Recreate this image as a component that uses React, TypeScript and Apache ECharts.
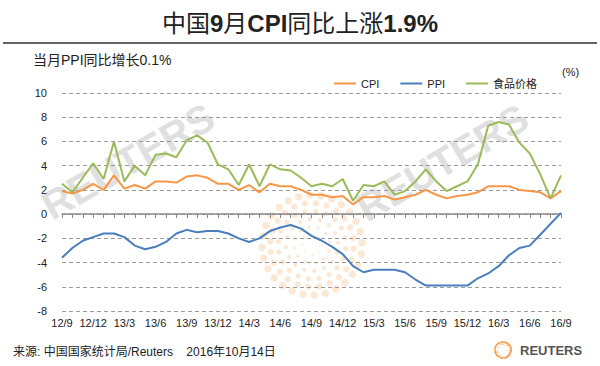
import React, { useEffect, useRef } from "react";
import * as echarts from "echarts";

const months: string[] = [
  "12/9","12/10","12/11","12/12",
  "13/1","13/2","13/3","13/4","13/5","13/6","13/7","13/8","13/9","13/10","13/11","13/12",
  "14/1","14/2","14/3","14/4","14/5","14/6","14/7","14/8","14/9","14/10","14/11","14/12",
  "15/1","15/2","15/3","15/4","15/5","15/6","15/7","15/8","15/9","15/10","15/11","15/12",
  "16/1","16/2","16/3","16/4","16/5","16/6","16/7","16/8","16/9",
];

const cpi: number[] = [
  1.9, 1.7, 2.0, 2.5,
  2.0, 3.2, 2.1, 2.4, 2.1, 2.7, 2.7, 2.6, 3.1, 3.2, 3.0, 2.5,
  2.5, 2.0, 2.4, 1.8, 2.5, 2.3, 2.3, 2.0, 1.6, 1.6, 1.4, 1.5,
  0.8, 1.4, 1.4, 1.5, 1.2, 1.4, 1.6, 2.0, 1.6, 1.3, 1.5, 1.6,
  1.8, 2.3, 2.3, 2.3, 2.0, 1.9, 1.8, 1.3, 1.9,
];

const ppi: number[] = [
  -3.6, -2.8, -2.2, -1.9,
  -1.6, -1.6, -1.9, -2.6, -2.9, -2.7, -2.3, -1.6, -1.3, -1.5, -1.4, -1.4,
  -1.6, -2.0, -2.3, -2.0, -1.4, -1.1, -0.9, -1.2, -1.8, -2.2, -2.7, -3.3,
  -4.3, -4.8, -4.6, -4.6, -4.6, -4.8, -5.4, -5.9, -5.9, -5.9, -5.9, -5.9,
  -5.3, -4.9, -4.3, -3.4, -2.8, -2.6, -1.7, -0.8, 0.1,
];

const food: number[] = [
  2.5, 1.8, 3.0, 4.2,
  2.9, 6.0, 2.7, 4.0, 3.2, 4.9, 5.0, 4.7, 6.1, 6.5, 5.9, 4.1,
  3.7, 2.4, 4.1, 2.3, 4.1, 3.7, 3.6, 3.0, 2.3, 2.5, 2.3, 2.9,
  1.1, 2.4, 2.3, 2.7, 1.6, 1.9, 2.7, 3.7, 2.7, 1.9, 2.3, 2.7,
  4.1, 7.3, 7.6, 7.4, 5.9, 5.0, 3.3, 1.3, 3.2,
];

const seriesNames: string[] = ["CPI", "PPI", "食品价格"];
const yTicks = { min: -8, max: 10, step: 2 };

const FONT = '"Liberation Sans", Arial, "Noto Sans CJK SC", sans-serif';

function sunDots(cx: number, cy: number, scale: number, color: string, opacity: number) {
  const els: any[] = [];
  for (let k = 0; k < 6; k++) {
    const r = (10 + k * 8) * scale;
    const n = 8 + k * 4;
    const dr = (1 + k * 0.55) * scale;
    for (let i = 0; i < n; i++) {
      const a = (i / n) * Math.PI * 2 + k * 0.35;
      els.push({
        type: "circle",
        z: 0,
        silent: true,
        shape: { cx: cx + r * Math.cos(a), cy: cy + r * Math.sin(a), r: dr },
        style: { fill: color, opacity },
      });
    }
  }
  return els;
}

export default function App() {
  const ref = useRef<HTMLDivElement>(null);

  useEffect(() => {
    document.body.style.margin = "0";
    if (!ref.current) return;
    const chart = echarts.init(ref.current, undefined, { renderer: "svg" });

    const watermarkStyle = {
      text: "REUTERS",
      fontFamily: FONT,
      fontSize: 40,
      fontWeight: "bold",
      fill: "#e0e0e0",
      textAlign: "left",
      textVerticalAlign: "bottom",
    };

    const option: any = {
      animation: false,
      backgroundColor: "#ffffff",
      title: {
        text: "中国{b|9}月{b|CPI}同比上涨{b|1.9%}",
        left: "center",
        top: 6,
        textStyle: {
          fontFamily: FONT,
          fontSize: 24,
          fontWeight: "normal",
          color: "#222",
          rich: {
            b: { fontFamily: FONT, fontSize: 24, fontWeight: "bold", color: "#222" },
          },
        },
      },
      legend: {
        data: seriesNames,
        left: 329,
        top: 73,
        icon: "rect",
        itemWidth: 22,
        itemHeight: 2,
        itemGap: 21,
        textStyle: { fontFamily: FONT, fontSize: 11, color: "#222" },
      },
      grid: { left: 62, right: 39, top: 93, bottom: 55, containLabel: false },
      xAxis: [
        {
          type: "category",
          data: months,
          boundaryGap: false,
          position: "bottom",
          axisLine: { show: false, onZero: false },
          axisTick: { show: false },
          axisLabel: {
            interval: 2,
            fontFamily: FONT,
            fontSize: 11,
            color: "#222",
            margin: 6,
          },
          splitLine: { show: false },
        },
        {
          type: "category",
          data: months,
          boundaryGap: false,
          position: "bottom",
          axisLine: { show: true, onZero: true, lineStyle: { color: "#8a8a8a", width: 1.5 } },
          axisTick: { show: true, interval: 0, length: 4, lineStyle: { color: "#8a8a8a" } },
          axisLabel: { show: false },
          splitLine: { show: false },
        },
      ],
      yAxis: {
        type: "value",
        min: yTicks.min,
        max: yTicks.max,
        interval: yTicks.step,
        axisLine: { show: false },
        axisTick: { show: false },
        axisLabel: { fontFamily: FONT, fontSize: 11, color: "#222", margin: 15 },
        splitLine: { show: true, lineStyle: { color: "#9a9a9a", type: [4, 3], width: 1 } },
      },
      series: [
        { name: seriesNames[0], type: "line", data: cpi, xAxisIndex: 0, showSymbol: false, z: 5,
          lineStyle: { color: "#F79646", width: 2 }, itemStyle: { color: "#F79646" } },
        { name: seriesNames[1], type: "line", data: ppi, xAxisIndex: 0, showSymbol: false, z: 5,
          lineStyle: { color: "#4A7EBB", width: 2 }, itemStyle: { color: "#4A7EBB" } },
        { name: seriesNames[2], type: "line", data: food, xAxisIndex: 0, showSymbol: false, z: 5,
          lineStyle: { color: "#9BBB59", width: 2 }, itemStyle: { color: "#9BBB59" } },
      ],
      graphic: [
        ...sunDots(312, 245, 1, "#f6c898", 0.4),
        { type: "text", z: 0, silent: true, x: 55, y: 226, rotation: 0.52, style: { ...watermarkStyle } },
        { type: "text", z: 0, silent: true, x: 370, y: 228, rotation: 0.53, style: { ...watermarkStyle } },
        {
          type: "line", z: 10,
          shape: { x1: 3, y1: 43, x2: 597, y2: 43 },
          style: { stroke: "#333", lineWidth: 1.5 },
        },
        {
          type: "text", z: 10, x: 33, y: 60,
          style: { text: "当月PPI同比增长0.1%", fontFamily: FONT, fontSize: 14, fill: "#222", textVerticalAlign: "middle" },
        },
        {
          type: "text", z: 10, x: 562, y: 72,
          style: { text: "(%)", fontFamily: FONT, fontSize: 11, fill: "#222", textVerticalAlign: "middle" },
        },
        {
          type: "text", z: 10, x: 13, y: 352,
          style: { text: "来源: 中国国家统计局/Reuters    2016年10月14日", fontFamily: FONT, fontSize: 12, fill: "#222", textVerticalAlign: "middle" },
        },
        ...sunDots(503, 350, 0.17, "#f08a24", 0.9),
        {
          type: "circle", z: 10, silent: true,
          shape: { cx: 503, cy: 350, r: 8 },
          style: { fill: "none", stroke: "#f5a55a", lineWidth: 1.5 },
        },
        {
          type: "text", z: 10, x: 520, y: 350,
          style: { text: "REUTERS", fontFamily: FONT, fontSize: 13, fontWeight: "bold", fill: "#555", textVerticalAlign: "middle" },
        },
      ],
    };

    chart.setOption(option);
    return () => chart.dispose();
  }, []);

  return <div ref={ref} style={{ width: 600, height: 366 }} />;
}
